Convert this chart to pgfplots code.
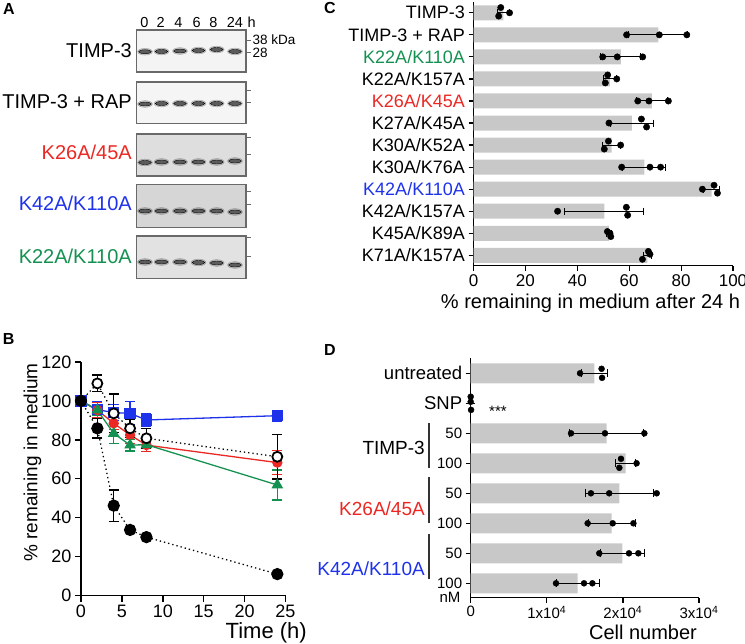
\documentclass[border=0pt]{standalone}
\usepackage{pgfplots}
\usepackage{pgfplotstable}
\pgfplotsset{compat=1.18}
\usepackage{fontspec}
\setmainfont{Liberation Sans}
\setsansfont{Liberation Sans}
\definecolor{cred}{RGB}{235,40,35}
\definecolor{cblue}{RGB}{30,50,235}
\definecolor{cgreen}{RGB}{20,145,80}
\definecolor{barg}{RGB}{200,200,200}
\definecolor{gelborder}{RGB}{105,105,105}
\newcommand{\fs}[1]{\fontsize{#1}{#1}\selectfont}

\pgfplotstableread{
x y v
145 51.7 0.8
161.5 51.5 0.85
180 51 0.7
198.5 50.5 0.7
216.7 49.5 0.6
235 51.5 0.2
145 104 0.65
161.5 103.5 0.7
180 103.5 0.65
198.5 103.5 0.65
216.7 103.5 0.65
235 103.5 0.65
145 162.5 0.75
161.5 162 0.7
180 162 0.7
198.5 162 0.75
216.7 162 0.65
235 161 0.75
145 211 0.5
161.5 211 0.5
180 211 0.5
198.5 211 0.5
216.7 211 0.5
235 212 0.5
145 262 0.55
161.5 262 0.5
180 262 0.55
198.5 262.5 0.55
216.7 263 0.5
235 265 0.5
}\gelbands

\begin{document}
\begin{tikzpicture}
\useasboundingbox (0pt,0pt) rectangle (745pt,-644pt);

% ---------------- Panel A (gels) ----------------
\begin{axis}[at={(0pt,0pt)}, anchor=north west, scale only axis,
  width=300pt, height=290pt, xmin=0, xmax=300, ymin=0, ymax=290,
  y dir=reverse, hide axis, clip=false,
  colormap={gel}{gray(0cm)=(0.9); gray(1cm)=(0.36)},
  point meta min=0, point meta max=1]
\filldraw[fill={rgb,255:red,244;green,244;blue,244}, draw=gelborder, line width=1.2pt] (axis cs:136.7,30) rectangle (axis cs:246,72);
\filldraw[fill={rgb,255:red,245;green,245;blue,245}, draw=gelborder, line width=1.2pt] (axis cs:136.7,82) rectangle (axis cs:246,123.3);
\filldraw[fill={rgb,255:red,222;green,222;blue,222}, draw=gelborder, line width=1.2pt] (axis cs:136.7,134) rectangle (axis cs:246,176);
\filldraw[fill={rgb,255:red,214;green,214;blue,214}, draw=gelborder, line width=1.2pt] (axis cs:136.7,184.3) rectangle (axis cs:246,227.3);
\filldraw[fill={rgb,255:red,226;green,226;blue,226}, draw=gelborder, line width=1.2pt] (axis cs:136.7,236) rectangle (axis cs:246,278.3);
\addplot[scatter, only marks, mark=*, mark size=3.4pt, opacity=0.25,
  scatter/use mapped color={draw=none, fill=mapped color},
  every mark/.append style={xscale=2.2}] table[meta=v]{\gelbands};
\addplot[scatter, only marks, mark=*, mark size=2pt,
  scatter/use mapped color={draw=none, fill=mapped color},
  every mark/.append style={xscale=3.2}] table[meta=v]{\gelbands};
\draw[gelborder, line width=1pt] (axis cs:247,40) -- (axis cs:251,40);
\draw[gelborder, line width=1pt] (axis cs:247,52.7) -- (axis cs:251,52.7);
\draw[gelborder, line width=1pt] (axis cs:247,90) -- (axis cs:251,90);
\draw[gelborder, line width=1pt] (axis cs:247,102.7) -- (axis cs:251,102.7);
\draw[gelborder, line width=1pt] (axis cs:247,137.3) -- (axis cs:251,137.3);
\draw[gelborder, line width=1pt] (axis cs:247,154) -- (axis cs:251,154);
\draw[gelborder, line width=1pt] (axis cs:247,191.7) -- (axis cs:251,191.7);
\draw[gelborder, line width=1pt] (axis cs:247,204) -- (axis cs:251,204);
\draw[gelborder, line width=1pt] (axis cs:247,237.3) -- (axis cs:251,237.3);
\draw[gelborder, line width=1pt] (axis cs:247,256.7) -- (axis cs:251,256.7);
\end{axis}

% ---------------- Panel B ----------------
\begin{axis}[at={(81pt,-595.5pt)}, anchor=south west, scale only axis,
  width=204.5pt, height=233.5pt,
  xmin=0, xmax=25, ymin=0, ymax=120,
  axis lines=left, axis line style={-, line width=1.4pt},
  every outer x axis line/.append style={-}, every outer y axis line/.append style={-},
  xtick={0,5,...,25}, ytick={0,20,...,120},
  tick align=outside, major tick length=6pt, tick style={line width=1.4pt, black},
  tick label style={font=\fs{18}}, /pgf/number format/assume math mode=true,
  ylabel={\% remaining in medium},
  ylabel style={font=\fs{19}, at={(axis description cs:-0.237,0.57)}, anchor=center},
  clip=false,
  error bars/error bar style={solid, line width=1.2pt},
  error bars/error mark options={solid, rotate=90, line width=1.2pt, mark size=5pt}]
\addplot[cblue, line width=1.3pt, mark=square*, mark size=5pt,
  error bars/.cd, y dir=both, y explicit] coordinates {
  (0,100) +- (0,0) (2,95.5) +- (0,4) (4,94) +- (0,4) (6,93.6) +- (0,6) (8,90.2) +- (0,3.5) (24,92.4) +- (0,2.8)};
\addplot[cred, line width=1.3pt, mark=*, mark size=4.5pt,
  error bars/.cd, y dir=both, y explicit] coordinates {
  (0,100) +- (0,0) (2,95.3) +- (0,4) (4,88.5) +- (0,3) (6,82.5) +- (0,4.5) (8,77.3) +- (0,3.5) (24,68.3) +- (0,6.2)};
\addplot[cgreen, line width=1.3pt, mark=triangle*, mark size=5.5pt,
  error bars/.cd, y dir=both, y explicit] coordinates {
  (0,100) +- (0,0) (2,95.3) +- (0,3) (4,83.3) +- (0,5) (6,77.3) +- (0,3) (8,77.5) +- (0,2) (24,56.8) +- (0,7.7)};
\addplot[black, line width=1.3pt, dash pattern=on 1.3pt off 3pt, mark=*, mark size=5pt,
  mark options={solid, fill=white, line width=1.8pt},
  error bars/.cd, y dir=both, y explicit] coordinates {
  (0,100) +- (0,0) (2,109) +- (0,4.3) (4,93.6) +- (0,10) (6,85.9) +- (0,4.5) (8,80.8) +- (0,5) (24,71.3) +- (0,11.4)};
\addplot[black, line width=1.3pt, dash pattern=on 1.3pt off 3pt, mark=*, mark size=5.5pt,
  mark options={solid, fill=black},
  error bars/.cd, y dir=both, y explicit] coordinates {
  (0,100) +- (0,0) (2,85.9) +- (0,5) (4,46.2) +- (0,8) (6,33.7) +- (0,0) (8,30) +- (0,0) (24,11) +- (0,0)};
\end{axis}

% ---------------- Panel C ----------------
\begin{axis}[at={(473.5pt,-265.7pt)}, anchor=south west, scale only axis,
  width=259.5pt, height=263.7pt,
  xmin=0, xmax=100, ymin=-0.47, ymax=11.49,
  axis lines=left, axis line style={-, line width=1.2pt},
  every outer x axis line/.append style={-}, every outer y axis line/.append style={-},
  xtick={0,20,...,100}, ytick={0,...,11},
  yticklabels={K71A/K157A, K45A/K89A, K42A/K157A, \textcolor{cblue}{K42A/K110A}, K30A/K76A, K30A/K52A, K27A/K45A, \textcolor{cred}{K26A/K45A}, K22A/K157A, \textcolor{cgreen}{K22A/K110A}, TIMP-3 + RAP, TIMP-3},
  tick align=outside, major tick length=5pt, tick style={line width=1.2pt, black},
  xticklabel style={font=\fs{17}}, yticklabel style={font=\fs{18}},
  /pgf/number format/assume math mode=true, clip=false]
\addplot[xbar, bar width=15pt, fill=barg, draw=none,
  error bars/.cd, x dir=both, x explicit,
  error bar style={black, line width=1pt},
  error mark options={rotate=90, black, line width=1pt, mark size=3.5pt}] coordinates {
  (11.5,11) +- (2.3,0)
  (71.2,10) +- (11.3,0)
  (56.8,9) +- (7.7,0)
  (52.6,8) +- (2.4,0)
  (68.7,7) +- (6,0)
  (61,6) +- (8.2,0)
  (53.2,5) +- (3.3,0)
  (65.8,4) +- (8.3,0)
  (91.8,3) +- (3,0)
  (50.4,2) +- (15.3,0)
  (52.2,1) +- (0.8,0)
  (67,0) +- (1.4,0)};
\addplot[only marks, mark=*, mark size=3.2pt, black] coordinates {
  (10.5,11.24) (9.7,10.85) (13.9,11)
  (59,10) (71.6,10) (82.2,10)
  (49.8,9) (55.4,9) (65.2,9)
  (51.7,8.18) (50.8,7.82) (55.2,8)
  (63.3,7) (67.6,7) (75.1,7)
  (52.2,6) (64.7,6.18) (66.7,5.82)
  (52,5.18) (50.4,4.82) (56.7,5)
  (57.1,4) (68,4) (72.1,4)
  (88.2,3) (92.7,3.18) (94,2.82)
  (32.4,2) (58.9,2.18) (59.4,1.82)
  (51.6,1.08) (52.6,1.0) (52.9,0.85)
  (67.4,0.18) (68,0.05) (65.1,-0.18)};
\end{axis}

% ---------------- Panel D ----------------
\begin{axis}[at={(470.7pt,-597.7pt)}, anchor=south west, scale only axis,
  width=228.3pt, height=239.7pt,
  xmin=0, xmax=3, ymin=-0.48, ymax=7.51,
  axis lines=left, axis line style={-, line width=1.2pt},
  every outer x axis line/.append style={-}, every outer y axis line/.append style={-},
  xtick={0,1,2,3},
  xticklabels={0, 1x10\textsuperscript{4}, 2x10\textsuperscript{4}, 3x10\textsuperscript{4}},
  ytick={0,...,7},
  yticklabels={{\fs{15}100}, {\fs{15}50}, {\fs{15}100}, {\fs{15}50}, {\fs{15}100}, {\fs{15}50}, SNP, untreated},
  tick align=outside, major tick length=5pt, tick style={line width=1.2pt, black},
  xticklabel style={font=\fs{15}}, yticklabel style={font=\fs{18.5}},
  clip=false]
\addplot[xbar, bar width=20pt, fill=barg, draw=none,
  error bars/.cd, x dir=both, x explicit,
  error bar style={black, line width=1pt},
  error mark options={rotate=90, black, line width=1pt, mark size=4pt}] coordinates {
  (1.625,7) +- (0.175,0)
  (0.0,6) +- (0.0,0)
  (1.787,5) +- (0.49,0)
  (2.037,4) +- (0.135,0)
  (1.953,3) +- (0.45,0)
  (1.853,2) +- (0.31,0)
  (1.993,1) +- (0.285,0)
  (1.406,0) +- (0.28,0)};
\addplot[only marks, mark=*, mark size=3pt, black] coordinates {
  (1.437,7) (1.72,7.15) (1.726,6.85)
  (0.0,6.22) (0.0,6.05) (0.005,5.78)
  (1.318,5) (1.765,5) (2.282,5)
  (1.975,4.15) (1.953,3.85) (2.18,4)
  (1.58,3) (1.82,3) (2.444,3)
  (1.537,2) (1.866,2) (2.138,2)
  (1.69,1) (2.08,1) (2.203,1)
  (1.121,0) (1.489,0) (1.599,0)};
\end{axis}

% ---------------- free text ----------------
\begin{scope}[x=1pt, y=-1pt, every node/.style={inner sep=0pt}]
\node[font=\fs{16}\bfseries] at (9,9) {A};
\node[font=\fs{16}\bfseries] at (8.7,339) {B};
\node[font=\fs{16}\bfseries] at (330,8.3) {C};
\node[font=\fs{16}\bfseries] at (330,349.5) {D};
% gel lanes
\foreach \xx/\tt in {144.3/0, 160.7/2, 178.3/4, 196.7/6, 213.3/8, 235/24, 251.7/h}
  \node[font=\fs{14.5}] at (\xx,22.7) {\tt};
\node[font=\fs{13.5}, anchor=west] at (252.5,40) {38 kDa};
\node[font=\fs{13.5}, anchor=west] at (252.5,53) {28};
\node[font=\fs{20}, anchor=east] at (132,50.5) {TIMP-3};
\node[font=\fs{20}, anchor=east] at (132,102) {TIMP-3 + RAP};
\node[font=\fs{20}, anchor=east, text=cred] at (132,152) {K26A/45A};
\node[font=\fs{20}, anchor=east, text=cblue] at (132,203) {K42A/K110A};
\node[font=\fs{20}, anchor=east, text=cgreen] at (132,256) {K22A/K110A};
% B xlabel
\node[font=\fs{22}, anchor=east] at (307,633) {Time (h)};
% C xlabel
\node[font=\fs{20}] at (590.5,303.5) {\% remaining in medium after 24 h};
% D
\node[font=\fs{20}] at (643,632.5) {Cell number};
\node[font=\fs{15}] at (450,597) {nM};
\node[font=\fs{15}] at (498,411) {***};
\node[font=\fs{19}, anchor=east] at (425,448.3) {TIMP-3};
\node[font=\fs{19}, anchor=east, text=cred] at (425,508.3) {K26A/45A};
\node[font=\fs{19}, anchor=east, text=cblue] at (425,568.3) {K42A/K110A};
\draw[line width=2pt, black!80] (429.3,423.3) -- (429.3,468.3);
\draw[line width=2pt, black!80] (429.3,477.3) -- (429.3,522.7);
\draw[line width=2pt, black!80] (429.3,534) -- (429.3,579.3);
\end{scope}
\end{tikzpicture}
\end{document}
